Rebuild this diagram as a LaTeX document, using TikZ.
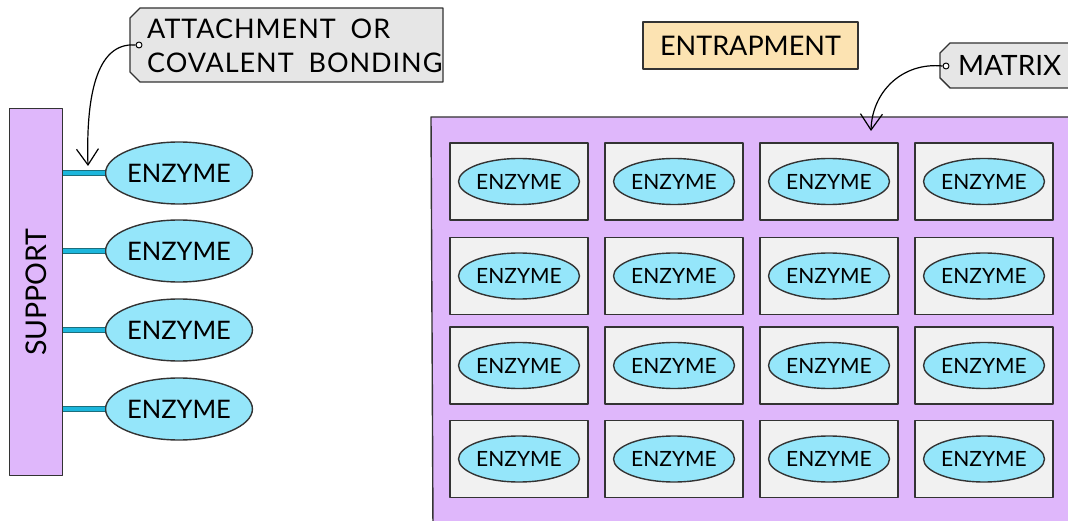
\documentclass[tikz,border=0pt]{standalone}
\usepackage{fontspec}
\setmainfont{Lato}
\newfontfamily\spacedfont[LetterSpace=3.5,WordSpace=1.9]{Lato}
\usetikzlibrary{arrows.meta,shapes.geometric}
\definecolor{lav}{HTML}{DFB7FB}
\definecolor{edge}{HTML}{333333}
\definecolor{enzfill}{HTML}{95E6FA}
\definecolor{cellfill}{HTML}{F1F1F1}
\definecolor{tagfill}{HTML}{E6E6E6}
\definecolor{peach}{HTML}{FCE3B2}
\definecolor{barteal}{HTML}{1C6E7C}
\definecolor{barcyan}{HTML}{1CB6DC}
\tikzset{
  outl/.style={draw=edge, line width=1.4pt},
  enz/.style={ellipse, outl, fill=enzfill, minimum width=137pt, minimum height=62pt, inner sep=0pt,
    font=\fontsize{25.5}{28}\selectfont},
  ienz/.style={ellipse, outl, fill=enzfill, minimum width=116pt, minimum height=46pt, inner sep=0pt,
    font=\fontsize{21}{24}\selectfont},
  cellbox/.style={rectangle, outl, fill=cellfill, minimum width=138pt, minimum height=77pt, inner sep=0pt},
  bar/.style={draw=barteal, line width=1.4pt, double=barcyan, double distance=3.5pt},
  callarrow/.style={draw=black, line width=1.2pt, -{Straight Barb[length=16pt,width=22pt,line width=1.2pt]}},
  dotstyle/.style={circle, draw=black, fill=white, line width=1pt, minimum size=6pt, inner sep=0pt},
  lbl/.style={font=\fontsize{27}{30}\selectfont, inner sep=0pt},
}
\begin{document}
\begin{tikzpicture}[x=1pt,y=-1pt,line join=round]
\useasboundingbox (0,0) rectangle (1068,521);
\clip (0,0) rectangle (1068,521);
\fill[white] (0,0) rectangle (1068,521);

% support
\node[outl, fill=lav, minimum width=53pt, minimum height=367pt, anchor=north west, inner sep=0pt] (support) at (9,108) {};
\node[lbl, rotate=90, font=\fontsize{28.5}{30}\selectfont] (supporttxt) at (support.center) {SUPPORT};

% left enzymes
\foreach \y [count=\k] in {173,251,330,409} {
  \node[enz] (e\k) at (179,\y) {ENZYME};
  \draw[bar] (support.east |- e\k) -- (e\k.west);
}

% attachment tag
\path[outl, fill=tagfill] (140,8) -- (443,8) -- (443,82) -- (140,82) -- (130,72) -- (130,18) -- cycle;
\node[lbl, anchor=base west] (att1) at (147,39) {\spacedfont ATTACHMENT OR};
\node[lbl, anchor=base west] (att2) at (147,73) {\spacedfont COVALENT BONDING};
\coordinate (atttip) at (88,166);
\node[dotstyle] (attdot) at (139,45) {};
\draw[callarrow] (attdot.west) .. controls (95,42) and (86,100) .. (atttip);

% entrapment
\node[outl, fill=peach, minimum width=215pt, minimum height=47pt, inner sep=0pt, lbl] (entr) at (750.5,45.5) {ENTRAPMENT};

% matrix
\path[outl, fill=lav] (431,117) -- (1085,117) -- (1085,530) -- (433,530) -- cycle;
\foreach \c [count=\i] in {519,674,829,984} {
  \foreach \r [count=\j] in {181.5,276,365.5,459} {
    \node[cellbox] (c\i\j) at (\c,\r) {};
    \node[ienz] (z\i\j) at (\c,\r) {ENZYME};
  }
}

% matrix tag
\path[outl, fill=tagfill] (950,43) -- (1080,43) -- (1080,88) -- (950,88) -- (940,78) -- (940,53) -- cycle;
\node[lbl, anchor=base west, font=\fontsize{28}{30}\selectfont] (mtx) at (958,76) {MATRIX};
\coordinate (mtxtip) at (871,131);
\node[dotstyle] (mtxdot) at (946,66) {};
\draw[callarrow] (mtxdot.west) .. controls (902,62) and (872,92) .. (mtxtip);
\end{tikzpicture}
\end{document}
